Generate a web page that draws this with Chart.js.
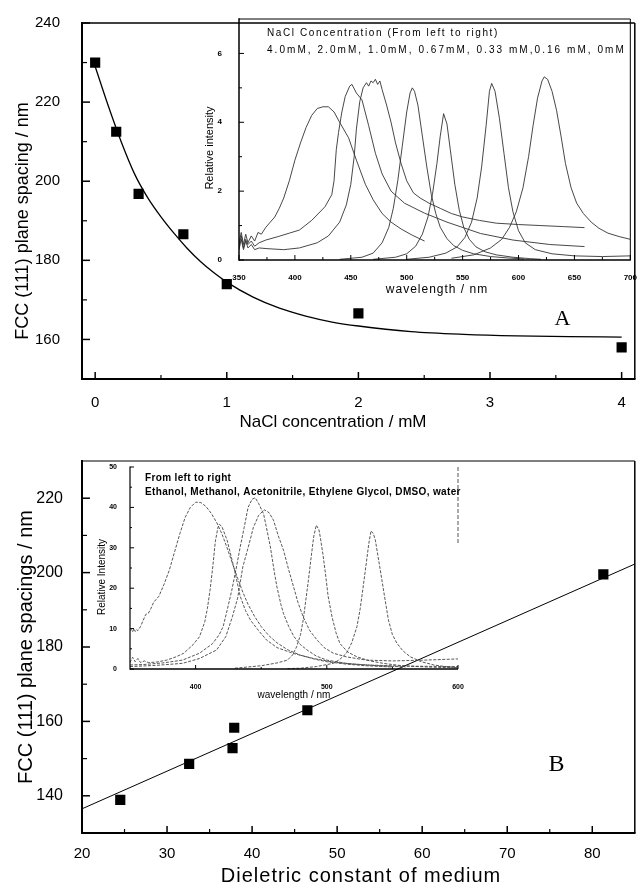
<!DOCTYPE html>
<html><head><meta charset="utf-8">
<script src="https://cdn.jsdelivr.net/npm/chart.js@4.4.1/dist/chart.umd.min.js"></script>
<style>
html,body{margin:0;padding:0;background:#fff;width:642px;height:886px;overflow:hidden}
.box{position:absolute}
</style></head><body>
<div class="box" style="left:0;top:0;width:642px;height:440px"><canvas id="cA"></canvas></div>
<div class="box" style="left:190px;top:0;width:452px;height:300px"><canvas id="cAi"></canvas></div>
<div class="box" style="left:0;top:440px;width:642px;height:446px"><canvas id="cB"></canvas></div>
<div class="box" style="left:95px;top:450px;width:380px;height:255px"><canvas id="cBi"></canvas></div>
<script>
// ---------------- Panel A (main) ----------------
const naclConc = [0, 0.16, 0.33, 0.67, 1.0, 2.0, 4.0];
const spacingA = [230, 212.5, 196.8, 186.6, 174, 166.6, 158];
const fitConcA = [0, 0.1, 0.2, 0.3, 0.4, 0.5, 0.6, 0.7, 0.8, 0.9, 1.0, 1.2, 1.4, 1.6, 1.8, 2.0, 2.4, 2.8, 3.2, 3.6, 4.0];
const fitSpacingA = [229, 219, 209.8, 201.8, 195.8, 191.0, 186.8, 183.0, 179.7, 176.9, 174.5, 170.7, 167.9, 165.9, 164.4, 163.4, 162.0, 161.3, 160.9, 160.7, 160.6];
const ticksAx = [0, 1, 2, 3, 4];
const minorAx = [0.5, 1.5, 2.5, 3.5];
const ticksAy = [160, 180, 200, 220, 240];
const minorAy = [170, 190, 210, 230];

// ---------------- Panel A inset: spectra [wavelength nm, relative intensity] ----------------
const specA_4mM = [[350,0.5],[352,0.8],[354,0.45],[356,0.75],[358,0.5],[361,0.7],[364,0.55],[367,0.8],[370,0.75],[374,0.95],[378,1.1],[382,1.25],[386,1.5],[390,1.8],[395,2.3],[400,2.9],[405,3.4],[410,3.85],[415,4.2],[420,4.4],[425,4.45],[430,4.45],[435,4.3],[440,4.0],[448,3.55],[455,2.9],[463,2.2],[470,1.75],[478,1.35],[486,1.1],[495,0.9],[505,0.72],[516,0.55]];
const specA_2mM = [[350,0.4],[352,0.7],[354,0.35],[356,0.6],[358,0.45],[361,0.55],[364,0.4],[368,0.5],[374,0.58],[385,0.68],[395,0.78],[404,0.87],[415,1.15],[427,1.55],[433,1.9],[435,2.3],[437,3.2],[439,3.7],[442,4.3],[445,4.75],[449,5.05],[451,5.1],[455,4.85],[460,4.65],[466,3.9],[472,3.1],[478,2.5],[486,2.0],[498,1.65],[516,1.36],[536,1.1],[566,0.77],[595,0.58],[628,0.45],[659,0.39]];
const specA_1mM = [[350,0.3],[352,0.6],[354,0.3],[356,0.55],[358,0.35],[361,0.45],[364,0.3],[368,0.35],[375,0.33],[390,0.3],[404,0.35],[420,0.5],[430,0.7],[440,1.1],[446,1.6],[450,2.2],[453,3.0],[455,3.8],[458,4.6],[461,5.0],[464,5.15],[466,5.05],[468,5.2],[470,5.15],[472,5.25],[474,5.1],[476,5.2],[478,4.95],[482,4.5],[486,4.0],[490,3.4],[495,2.8],[500,2.3],[506,1.95],[512,1.8],[520,1.65],[530,1.5],[540,1.35],[550,1.25],[565,1.15],[580,1.07],[600,1.03],[620,1.0],[640,0.97],[659,0.94]];
const specA_067mM = [[440,0.02],[460,0.08],[470,0.2],[478,0.5],[484,0.95],[488,1.5],[492,2.3],[496,3.3],[500,4.3],[503,4.85],[505,5.0],[507,4.9],[510,4.5],[514,3.6],[518,2.7],[522,1.9],[526,1.35],[530,0.95],[536,0.62],[542,0.42],[550,0.28],[560,0.18],[575,0.1],[590,0.06],[605,0.03]];
const specA_033mM = [[470,0.02],[490,0.08],[500,0.18],[508,0.4],[514,0.75],[519,1.25],[523,1.9],[527,2.8],[530,3.6],[533,4.25],[536,3.95],[539,3.2],[543,2.2],[547,1.45],[551,0.95],[556,0.6],[562,0.38],[570,0.24],[580,0.15],[595,0.08],[610,0.04],[620,0.02]];
const specA_016mM = [[500,0.02],[520,0.08],[535,0.2],[545,0.38],[552,0.65],[558,1.1],[563,1.8],[567,2.7],[571,3.9],[574,4.9],[576,5.13],[579,4.9],[583,4.1],[587,3.1],[591,2.1],[595,1.4],[600,0.85],[606,0.5],[615,0.3],[630,0.18],[650,0.12],[675,0.1],[700,0.12]];
const specA_0mM = [[540,0.05],[560,0.15],[575,0.35],[585,0.6],[592,0.95],[598,1.4],[604,2.1],[609,3.0],[613,3.9],[617,4.7],[621,5.2],[623,5.32],[626,5.25],[630,4.9],[634,4.35],[638,3.6],[642,2.8],[647,2.1],[652,1.65],[658,1.35],[665,1.1],[672,0.92],[680,0.78],[690,0.68],[700,0.6]];
const ticksAix = [350, 400, 450, 500, 550, 600, 650, 700];
const minorAix = [375, 425, 475, 525, 575, 625, 675];
const ticksAiy = [0, 2, 4, 6];
const minorAiy = [1, 3, 5];

// ---------------- Panel B (main) ----------------
const dielectric = [24.5, 32.6, 37.7, 37.9, 46.5, 81.3];
const spacingB = [138.9, 148.6, 152.8, 158.3, 163.0, 199.5];
const fitDielB = [20, 85];
const fitSpacingB = [136.5, 202.3];
const ticksBx = [20, 30, 40, 50, 60, 70, 80];
const minorBx = [25, 35, 45, 55, 65, 75];
const ticksBy = [140, 160, 180, 200, 220];
const minorBy = [150, 170, 190, 210];

// ---------------- Panel B inset: spectra ----------------
const specB_ethanol = [[350,9.5],[351,9.8],[352,9.2],[353,10],[354,9.3],[355,9.8],[356,9.5],[358,10.5],[360,12],[362,13.5],[364,13.8],[366,15],[368,16.5],[372,18],[376,21],[380,24.5],[384,29],[388,33.5],[392,37.5],[396,40],[400,41.3],[404,41.2],[408,40.2],[412,38.5],[416,36.3],[420,33.5],[424,30],[428,26.2],[432,22.5],[436,19],[440,16],[445,13],[450,10.5],[456,8.2],[462,6.5],[470,4.8],[480,3.4],[490,2.5],[500,1.8],[515,1.2],[530,0.8],[550,0.5]];
const specB_methanol = [[350,1.6],[352,2.9],[354,1.8],[356,2.6],[358,1.6],[361,2.0],[364,1.6],[370,1.7],[378,2.2],[385,3.0],[391,3.9],[398,6.0],[403,8.0],[407,11.7],[409,15],[411,19.5],[413,25],[415,31.5],[417,35],[418,35.8],[420,35.3],[424,31.9],[427,28],[430,24],[434,18],[438,14.5],[442,12],[448,9.5],[454,7.2],[462,5.3],[475,3.8],[490,2.6],[505,1.7],[520,1.2],[540,0.8],[560,0.5]];
const specB_acetonitrile = [[350,1.0],[360,1.1],[375,1.5],[390,2.2],[403,3.9],[413,6.3],[418,8.5],[421,10.5],[424,14.5],[427.6,19.5],[431,25],[434,30.2],[437,35],[440,40],[443,42],[445.4,42.4],[448,41],[451.8,38.4],[454,35],[457,30.2],[460,24],[462,20.3],[465,16],[467,13.7],[471,10.5],[475,8.0],[480,6],[485,4.7],[492,3.2],[500,2.2],[515,1.4],[530,1.0],[560,0.7],[600,0.6]];
const specB_glycol = [[350,0.6],[370,0.9],[390,1.4],[403,2.6],[416,4.7],[423,8],[428,12.9],[432,17.5],[436,25.3],[440,30],[444,35],[448,38],[452.3,39.4],[456,38.7],[459.4,36.8],[463,33],[467,29.4],[471,24.5],[474.7,20.3],[478,16.5],[482,12.9],[487,9.5],[492.5,7.2],[498,5.3],[505,3.9],[515,3.0],[530,2.2],[550,2.0],[575,2.2],[600,2.5]];
const specB_dmso = [[430,0.2],[450,0.8],[462,1.5],[470,2.2],[474,3.5],[477,5.5],[480,8.5],[482,12.1],[484,17],[486,22],[488,27.5],[490,32.7],[492,35.6],[494,34.5],[495,32.7],[497,28.5],[499,23.6],[501,18],[504,12.9],[507,9],[510,6.3],[516,4.2],[523,3.0],[533,2.0],[543,1.4],[555,0.9],[569,0.6],[585,0.4],[600,0.3]];
const specB_water = [[470,0.1],[480,0.2],[492,0.6],[505,1.4],[510,2.4],[515,3.9],[519,6.5],[523,10.5],[525.5,15],[528,21],[530,26],[532,31],[533.7,34.2],[535.5,33.5],[537,31.9],[539.5,27],[542,22],[544.5,17],[547,12.1],[550,8.5],[553.6,6.3],[558,4.5],[563.7,3.0],[572,1.8],[581.6,1.0],[590,0.6],[600,0.3]];
const ticksBix = [400, 500, 600];
const minorBix = [450, 550];
const ticksBiy = [0, 10, 20, 30, 40, 50];
const minorBiy = [5, 15, 25, 35, 45];

// ---------------- helpers ----------------
const SANS = '"Liberation Sans", Arial, Helvetica, sans-serif';
const SERIF = '"Liberation Serif", "Times New Roman", serif';
Chart.defaults.font.family = SANS;
Chart.defaults.color = '#000';

const zipXY = (xs, ys) => xs.map((x, i) => ({x: x, y: ys[i]}));
const pairsXY = (p) => p.map(q => ({x: q[0], y: q[1]}));

function decor(cfg) {
  return {
    id: 'decor_' + Math.random().toString(36).slice(2),
    afterDatasetsDraw(chart) {
      const ctx = chart.ctx, a = chart.chartArea, sc = chart.scales;
      ctx.save();
      ctx.strokeStyle = '#000';
      ctx.lineCap = 'butt';
      const seg = (w, x1, y1, x2, y2, dash, col) => {
        if (!w) return;
        ctx.lineWidth = w; ctx.setLineDash(dash || []); ctx.strokeStyle = col || '#000';
        ctx.beginPath(); ctx.moveTo(x1, y1); ctx.lineTo(x2, y2); ctx.stroke();
      };
      const s = cfg.sides || {};
      seg(s.top, a.left, a.top, a.right, a.top, null, s.topColor);
      seg(s.right, a.right, a.top, a.right, a.bottom);
      seg(s.left, a.left, a.top - (s.left/2), a.left, a.bottom + (s.bottom||0)/2);
      seg(s.bottom, a.left, a.bottom, a.right + (s.right||0)/2, a.bottom);
      if (cfg.rightDash) {
        const r = cfg.rightDash;
        seg(r.width, a.right, sc.y.getPixelForValue(r.from), a.right, sc.y.getPixelForValue(r.to), r.dash, r.color);
      }
      ctx.setLineDash([]);
      ctx.strokeStyle = '#000';
      (cfg.ticks || []).forEach(t => {
        const scale = sc[t.axis];
        ctx.lineWidth = t.width;
        t.values.forEach(v => {
          const p = scale.getPixelForValue(v);
          ctx.beginPath();
          if (t.axis === 'x') { ctx.moveTo(p, a.bottom); ctx.lineTo(p, a.bottom - t.len); }
          else { ctx.moveTo(a.left, p); ctx.lineTo(a.left + t.len, p); }
          ctx.stroke();
        });
      });
      ctx.restore();
    },
    afterDraw(chart) {
      const ctx = chart.ctx, sc = chart.scales;
      (cfg.notes || []).forEach(n => {
        ctx.save();
        ctx.font = n.font;
        ctx.fillStyle = n.color || '#000';
        if ('letterSpacing' in ctx) ctx.letterSpacing = n.spacing || '0px';
        let x = n.x, y = n.y;
        if (n.xv !== undefined) { x = sc.x.getPixelForValue(n.xv); y = sc.y.getPixelForValue(n.yv); }
        ctx.translate(x, y);
        if (n.rot) ctx.rotate(n.rot * Math.PI / 180);
        ctx.textAlign = n.align || 'left';
        ctx.textBaseline = 'middle';
        ctx.fillText(n.text, 0, 0);
        ctx.restore();
      });
    }
  };
}

function axis(min, max, majors, fitKey, fitVal, tickFont, pad, extra) {
  const o = {
    type: 'linear', min: min, max: max,
    grid: {display: false}, border: {display: false},
    afterBuildTicks: s => { s.ticks = majors.map(v => ({value: v})); },
    afterFit: s => { s[fitKey] = fitVal; },
    ticks: {padding: pad, font: tickFont, color: '#000', maxRotation: 0, autoSkip: false}
  };
  return Object.assign(o, extra || {});
}

const base = (padding) => ({
  responsive: true, maintainAspectRatio: false, animation: false, events: [],
  layout: {padding: padding},
  plugins: {legend: {display: false}, tooltip: {enabled: false}}
});

const lineDs = (pts, color, width, dash) => ({
  type: 'line', data: pairsXY(pts), borderColor: color, borderWidth: width,
  borderDash: dash || [], pointRadius: 0, fill: false, tension: 0
});

// ---------------- Chart A main ----------------
new Chart(document.getElementById('cA'), {
  type: 'scatter',
  data: {datasets: [
    {data: zipXY(fitConcA, fitSpacingA), showLine: true, pointRadius: 0, borderColor: '#000', borderWidth: 1.3, cubicInterpolationMode: 'monotone'},
    {data: zipXY(naclConc, spacingA), pointStyle: 'rect', pointRadius: 7.2, backgroundColor: '#000', borderColor: '#000', borderWidth: 0}
  ]},
  options: Object.assign(base({top: 16, right: 6, left: 0, bottom: 0}), {
    scales: {
      x: axis(-0.1, 4.1, ticksAx, 'height', 61, {size: 15}, 7),
      y: axis(150, 240, ticksAy, 'width', 82, {size: 15}, 14)
    }
  }),
  plugins: [decor({
    sides: {left: 2, bottom: 2, top: 1.5, right: 1.5},
    ticks: [
      {axis: 'x', values: ticksAx, len: 7, width: 1.5},
      {axis: 'x', values: minorAx, len: 4, width: 1.2},
      {axis: 'y', values: ticksAy, len: 8, width: 1.5},
      {axis: 'y', values: minorAy, len: 5, width: 1.2}
    ],
    notes: [
      {text: 'FCC (111) plane spacing / nm', x: 23, y: 221, rot: -90, font: '18px ' + SANS, align: 'center'},
      {text: 'NaCl concentration / mM', x: 333, y: 422, font: '17px ' + SANS, align: 'center'},
      {text: 'A', xv: 3.55, yv: 165.2, font: '22px ' + SERIF, align: 'center'}
    ]
  })]
});

// ---------------- Chart A inset ----------------
const grayA = '#333';
new Chart(document.getElementById('cAi'), {
  type: 'scatter',
  data: {datasets: [
    lineDs(specA_4mM, grayA, 0.9), lineDs(specA_2mM, grayA, 0.9), lineDs(specA_1mM, grayA, 0.9),
    lineDs(specA_067mM, grayA, 0.9), lineDs(specA_033mM, grayA, 0.9), lineDs(specA_016mM, grayA, 0.9),
    lineDs(specA_0mM, grayA, 0.9)
  ]},
  options: Object.assign(base({top: 19, right: 7, left: 0, bottom: 0}), {
    scales: {
      x: axis(350, 700, ticksAix, 'height', 40, {size: 8, weight: 'bold'}, 5),
      y: axis(0, 7, ticksAiy, 'width', 49, {size: 8, weight: 'bold'}, 9)
    }
  }),
  plugins: [decor({
    sides: {left: 1.5, bottom: 1.5, top: 1, right: 1},
    ticks: [
      {axis: 'x', values: ticksAix, len: 5, width: 1},
      {axis: 'x', values: minorAix, len: 3, width: 1},
      {axis: 'y', values: ticksAiy, len: 5, width: 1},
      {axis: 'y', values: minorAiy, len: 3, width: 1}
    ],
    notes: [
      {text: 'Relative intensity', x: 20, y: 148, rot: -90, font: '11px ' + SANS, align: 'center'},
      {text: 'wavelength / nm', x: 247, y: 290, font: '12px ' + SANS, align: 'center', spacing: '1px'},
      {text: 'NaCl Concentration (From left to right)', x: 77, y: 33, font: '10px ' + SANS, spacing: '1.6px'},
      {text: '4.0mM, 2.0mM, 1.0mM, 0.67mM, 0.33 mM,0.16 mM, 0mM', x: 77, y: 50, font: '10px ' + SANS, spacing: '2.05px'}
    ]
  })]
});

// ---------------- Chart B main ----------------
new Chart(document.getElementById('cB'), {
  type: 'scatter',
  data: {datasets: [
    {data: zipXY(fitDielB, fitSpacingB), showLine: true, pointRadius: 0, borderColor: '#000', borderWidth: 1},
    {data: zipXY(dielectric, spacingB), pointStyle: 'rect', pointRadius: 7.2, backgroundColor: '#000', borderColor: '#000', borderWidth: 0}
  ]},
  options: Object.assign(base({top: 21, right: 1, left: 0, bottom: 0}), {
    scales: {
      x: axis(20, 85, ticksBx, 'height', 53, {size: 15}, 4),
      y: axis(130, 230, ticksBy, 'width', 82, {size: 16}, 11,
        {title: {display: true, text: 'FCC (111) plane spacings / nm', font: {size: 20}, padding: {top: 14, bottom: 0}}})
    }
  }),
  plugins: [decor({
    sides: {left: 2, bottom: 2, top: 1.2, right: 1.5},
    ticks: [
      {axis: 'x', values: ticksBx, len: 7, width: 1.5},
      {axis: 'x', values: minorBx, len: 4, width: 1.2},
      {axis: 'y', values: ticksBy, len: 8, width: 1.5},
      {axis: 'y', values: minorBy, len: 5, width: 1.2}
    ],
    notes: [
      {text: 'Dieletric constant of medium', x: 361, y: 436, font: '20px ' + SANS, align: 'center', spacing: '1px'},
      {text: 'B', xv: 75.8, yv: 148.3, font: '24px ' + SERIF, align: 'center'}
    ]
  })]
});

// ---------------- Chart B inset ----------------
const grayB = '#444';
const dashB = [3, 1.5];
new Chart(document.getElementById('cBi'), {
  type: 'scatter',
  data: {datasets: [
    lineDs(specB_ethanol, grayB, 0.9, dashB), lineDs(specB_methanol, grayB, 0.9, dashB),
    lineDs(specB_acetonitrile, grayB, 0.9, dashB), lineDs(specB_glycol, grayB, 0.9, dashB),
    lineDs(specB_dmso, grayB, 0.9, dashB), lineDs(specB_water, grayB, 0.9, dashB)
  ]},
  options: Object.assign(base({top: 17, right: 17, left: 0, bottom: 0}), {
    scales: {
      x: axis(350, 600, ticksBix, 'height', 36, {size: 7, weight: 'bold'}, 6,
        {title: {display: true, text: 'wavelength / nm', font: {size: 10}, padding: {top: 0, bottom: 4}}}),
      y: axis(0, 50, ticksBiy, 'width', 35, {size: 7, weight: 'bold'}, 5)
    }
  }),
  plugins: [decor({
    sides: {left: 1.2, bottom: 1.5},
    rightDash: {from: 50, to: 31, width: 1, dash: [4, 2], color: '#555'},
    ticks: [
      {axis: 'x', values: ticksBix, len: 4, width: 1},
      {axis: 'x', values: minorBix, len: 2, width: 1},
      {axis: 'y', values: ticksBiy, len: 4, width: 1},
      {axis: 'y', values: minorBiy, len: 2, width: 1}
    ],
    notes: [
      {text: 'Relative Intensity', x: 7, y: 127, rot: -90, font: '10px ' + SANS, align: 'center'},
      {text: 'From left to right', x: 50, y: 28, font: 'bold 10px ' + SANS, spacing: '0.35px'},
      {text: 'Ethanol, Methanol, Acetonitrile, Ethylene Glycol, DMSO, water', x: 50, y: 42, font: 'bold 10px ' + SANS, spacing: '0.35px'}
    ]
  })]
});
</script></body></html>
